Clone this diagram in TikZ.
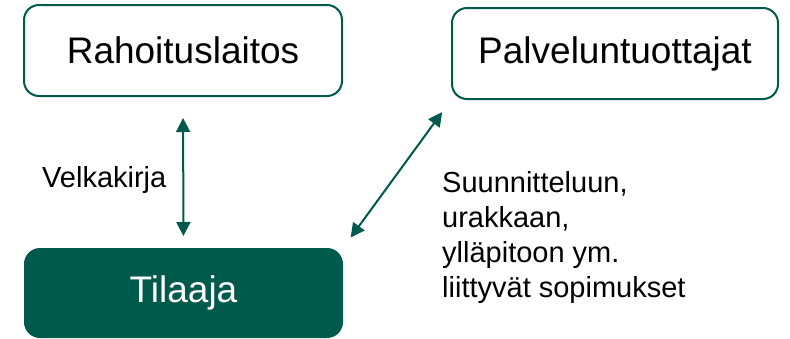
\documentclass[tikz,border=0pt]{standalone}
\usepackage{fontspec}
\setmainfont{Liberation Sans}
\usetikzlibrary{arrows.meta}
\definecolor{dgreen}{HTML}{005A4B}
\begin{document}
\begin{tikzpicture}[x=1pt,y=-1pt,
  whitebox/.style={draw=dgreen,line width=2pt,rounded corners=15pt,fill=white,inner sep=0pt,font=\fontsize{37}{44}\selectfont},
  greenbox/.style={draw=dgreen,line width=2pt,rounded corners=15pt,fill=dgreen,text=white,inner sep=0pt,font=\fontsize{37}{44}\selectfont},
  link/.style={draw=dgreen,line width=2pt,{Triangle[length=14pt,width=14pt]}-{Triangle[length=14pt,width=14pt]}},
  lbl/.style={inner sep=0pt,font=\fontsize{29}{35}\selectfont}]
\useasboundingbox (0,0) rectangle (790,338);
\node[whitebox,minimum width=318pt,minimum height=91pt] (R) at (183,50.5) {Rahoituslaitos};
\node[whitebox,minimum width=326pt,minimum height=91pt] (P) at (615,53.5) {Palveluntuottajat};
\node[greenbox,minimum width=317pt,minimum height=88pt] (T) at (183.5,293) {Tilaaja};
\draw[link,shorten <=21pt,shorten >=12pt] (R.south) -- (T.north);
\draw[link,shorten <=15pt,shorten >=13pt] (P.south west) -- (T.north east);
\node[lbl,anchor=base west] (vk) at (42,187) {Velkakirja};
\node[lbl,anchor=north west,align=left] (sop) at (442,171) {Suunnitteluun,\\urakkaan,\\ylläpitoon ym.\\liittyvät sopimukset};
\end{tikzpicture}
\end{document}
